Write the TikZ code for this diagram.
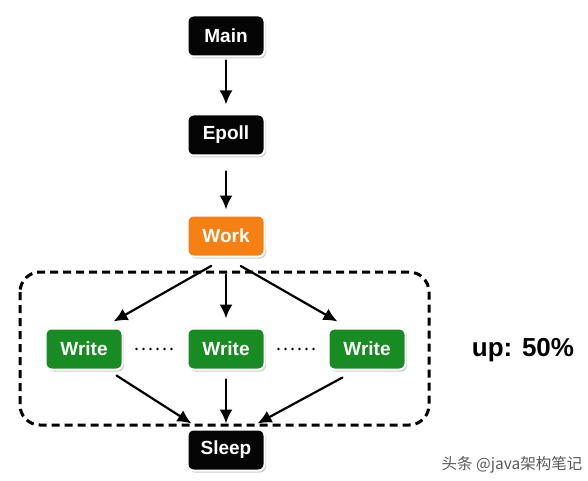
\documentclass[tikz,border=0pt]{standalone}
\usepackage{fontspec}
\setmainfont{Liberation Sans}
\newfontfamily\cjk{Noto Sans CJK SC}
\usetikzlibrary{arrows.meta, shadows, positioning}
\definecolor{boxblack}{RGB}{5,5,5}
\definecolor{workorange}{RGB}{247,128,18}
\definecolor{writegreen}{RGB}{24,140,34}
\definecolor{markgrey}{RGB}{90,90,90}

\tikzset{
  task/.style={rounded corners=6pt, draw=white, line width=2pt, text=white,
    font=\fontsize{19}{19}\selectfont\bfseries, minimum width=77pt, minimum height=41pt,
    drop shadow={opacity=0.4, shadow xshift=1.5pt, shadow yshift=-2pt}},
  arr/.style={-{Latex[length=14pt,width=13pt]}, line width=2.2pt},
  dotline/.style={line width=2.6pt, dash pattern=on 0pt off 7pt}
}

\begin{document}
\begin{tikzpicture}[x=1pt, y=-1pt, line cap=round]
    \useasboundingbox (0,0) rectangle (588,481);

    % flow boxes
    \node[task, fill=boxblack] (main) at (226,36) {Main};
    \node[task, fill=boxblack] (epoll) at (226,135) {Epoll};
    \node[task, fill=workorange] (work) at (226,236) {Work};
    \node[task, fill=writegreen] (w1) at (84,349) {Write};
    \node[task, fill=writegreen] (w2) at (226,349) {Write};
    \node[task, fill=writegreen] (w3) at (367,349) {Write};
    \node[task, fill=boxblack] (sleep) at (226,450) {Sleep};

    % dashed group
    \draw[line width=3pt, dash pattern=on 8pt off 5pt, line cap=butt, rounded corners=20pt] (20,272) rectangle (429,425);

    \draw[arr, shorten <=3pt, shorten >=9pt] (main) -- (epoll);
    \draw[arr, shorten <=15pt, shorten >=5pt] (epoll) -- (work);
    \draw[arr, shorten <=17pt] (work.south) -- ([xshift=-10pt,yshift=6pt]w1.north east);
    \draw[arr, shorten <=17pt, shorten >=9pt] (work.south) -- (w2.north);
    \draw[arr, shorten <=17pt] (work.south) -- ([xshift=10pt,yshift=6pt]w3.north west);
    \draw[arr] ([xshift=-7pt,yshift=-5pt]w1.south east) -- ([xshift=5pt,yshift=5pt]sleep.north west);
    \draw[arr, shorten <=9pt, shorten >=5pt] (w2.south) -- (sleep.north);
    \draw[arr] ([xshift=15pt,yshift=-7pt]w3.south west) -- ([xshift=-8pt,yshift=5pt]sleep.north east);

    \draw[dotline] ([xshift=13pt]w1.east) -- ([xshift=-14pt]w2.west);
    \draw[dotline] ([xshift=13pt]w2.east) -- ([xshift=-14pt]w3.west);

    \node[font=\fontsize{26}{26}\selectfont\bfseries] (up) at (523,350) {up: 50\%};
    \node[text=markgrey, font=\cjk\fontsize{15.5}{15.5}\selectfont] (mark) at (512,465) {头条 @java架构笔记};
\end{tikzpicture}
\end{document}
